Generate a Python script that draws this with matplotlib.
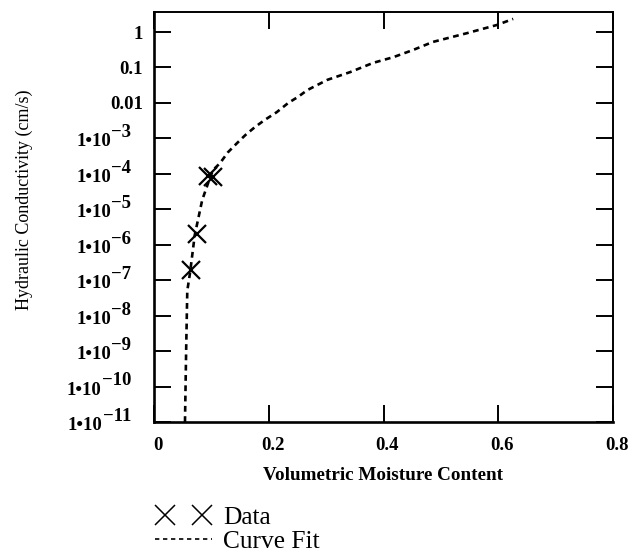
import matplotlib
matplotlib.use("Agg")
import matplotlib.pyplot as plt
from matplotlib.lines import Line2D
from matplotlib.legend_handler import HandlerLine2D
from matplotlib.ticker import FixedLocator, NullLocator
from matplotlib.transforms import ScaledTranslation, blended_transform_factory

plt.rcParams['font.family'] = ['Liberation Serif', 'DejaVu Serif']

# Measured data points
data_theta = [0.094, 0.103, 0.075, 0.064]
data_k = [8.8e-5, 8.3e-5, 2.0e-6, 1.9e-7]

# Curve fit (theta, log10 K)
fit_theta = [0.054, 0.055, 0.056, 0.058, 0.063, 0.071, 0.084, 0.098, 0.103, 0.115,
             0.129, 0.145, 0.159, 0.176, 0.193, 0.214, 0.234, 0.251, 0.267, 0.302,
             0.342, 0.382, 0.417, 0.451, 0.486, 0.546, 0.598, 0.626]
fit_logk = [-11.0, -10.0, -9.0, -7.3, -6.77, -5.73, -4.74, -4.09, -3.89, -3.70,
            -3.39, -3.13, -2.91, -2.68, -2.48, -2.26, -2.00, -1.83, -1.64, -1.35,
            -1.13, -0.87, -0.71, -0.51, -0.28, -0.03, 0.20, 0.37]

y_ticks = [1, 0.1, 0.01, 1e-3, 1e-4, 1e-5, 1e-6, 1e-7, 1e-8, 1e-9, 1e-10, 1e-11]
y_plain_labels = ['1', '0.1', '0.01']
y_pow_exponents = [3, 4, 5, 6, 7, 8, 9, 10, 11]
x_ticks = [0, 0.2, 0.4, 0.6, 0.8]
x_labels = ['0', '0.2', '0.4', '0.6', '0.8']

TICK_FS = 13.5

fig = plt.figure(figsize=(6.31, 5.55), dpi=100)
ax = fig.add_axes([154/631, 1-422/555, (613-154)/631, (422-12)/555])

ax.plot(fit_theta, [10**v for v in fit_logk], color='black', lw=1.9,
        dashes=(2.2, 1.7))
ax.plot(data_theta, data_k, ls='none', marker='x', ms=12.5, mew=1.6, color='black')

ax.set_yscale('log')
ax.set_xlim(0, 0.8)
ax.set_ylim(1e-11, 3.67)

ax.yaxis.set_major_locator(FixedLocator(y_ticks))
ax.yaxis.set_minor_locator(NullLocator())
ax.set_yticklabels(y_plain_labels + [''] * len(y_pow_exponents))
ax.set_xticks(x_ticks)
ax.set_xticklabels(x_labels)

ax.tick_params(axis='both', which='major', direction='in', length=12, width=1.4,
               top=True, right=True, labelsize=TICK_FS)
ax.tick_params(axis='x', pad=11)
ax.tick_params(axis='y', pad=8)
shift = ScaledTranslation(4/100, 0, fig.dpi_scale_trans)
for lab in ax.get_xticklabels():
    lab.set_fontweight('bold')
    lab.set_transform(lab.get_transform() + shift)
for lab in ax.get_yticklabels():
    lab.set_fontweight('bold')

# power-of-ten labels with full-size raised exponents
trans = blended_transform_factory(ax.transAxes, ax.transData)
for n in y_pow_exponents:
    exp_t = ax.annotate('\u2212%d' % n, xy=(0, 10.0**(-n)), xycoords=trans,
                        xytext=(-16.6, 4.0), textcoords='offset points',
                        ha='right', va='center', fontsize=TICK_FS, fontweight='bold',
                        annotation_clip=False)
    ax.annotate('1\u202210', xy=(0, 0.5), xycoords=exp_t,
                xytext=(0, -6.5), textcoords='offset points',
                ha='right', va='center', fontsize=TICK_FS, fontweight='bold',
                annotation_clip=False)

for s in ['left', 'bottom']:
    ax.spines[s].set_linewidth(1.9)
for s in ['top', 'right']:
    ax.spines[s].set_linewidth(1.4)

fig.text(383/631, 1-475/555, 'Volumetric Moisture Content', ha='center', va='center',
         fontsize=13.8, fontweight='bold')
fig.text(24/631, 1-200/555, 'Hydraulic Conductivity (cm/s)', ha='center', va='center',
         rotation=90, fontsize=13)

h_data = Line2D([], [], ls='none', marker='x', ms=14, mew=1.1, color='black')
h_fit = Line2D([], [], ls=(0, (2.6, 2.2)), lw=1.2, color='black')
fig.legend([h_data, h_fit], ['Data', 'Curve Fit'], loc='upper left',
           bbox_to_anchor=(155/631, 1-506/555), frameon=False, numpoints=2,
           handlelength=2.24, handletextpad=0.43, fontsize=18.3, labelspacing=0.05,
           borderaxespad=0, borderpad=0,
           handler_map={h_data: HandlerLine2D(marker_pad=0.39),
                        h_fit: HandlerLine2D(marker_pad=0.0)})

fig.savefig('out.png', dpi=100)
